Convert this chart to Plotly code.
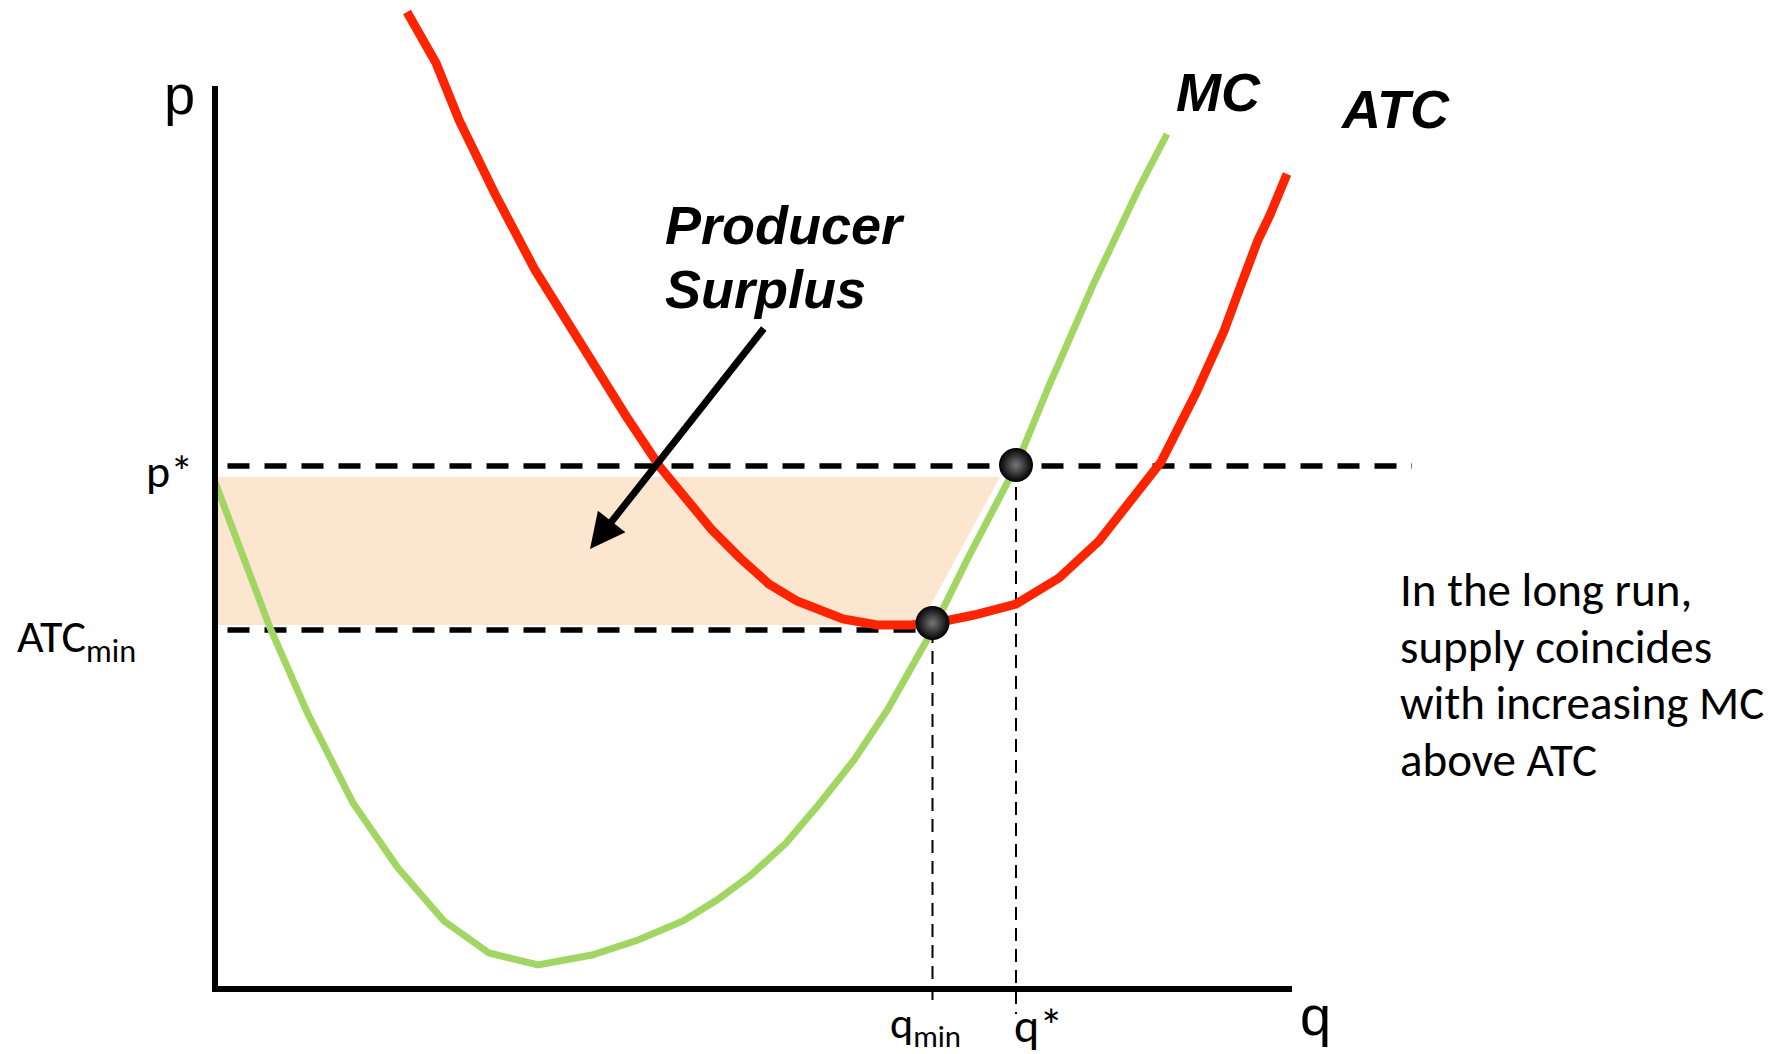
import plotly.graph_objects as go

# ---- data (quantity q, price p in chart units) ----
mc_q = [0, 5.47, 9.2, 13.8, 18.3, 22.9, 27.4, 32.3, 37.7, 42.3, 46.8, 50.2, 53.6, 57.1,
        60.5, 63.9, 67.3, 70.7, 71.75, 75.3, 80.1, 83.3, 87.8, 92.4, 95.2]
mc_p = [50.7, 36.2, 27.7, 18.6, 12.1, 6.8, 3.6, 2.4, 3.4, 4.9, 6.8, 8.9, 11.4, 14.6,
        18.6, 22.9, 28.0, 33.9, 35.9, 43.1, 52.3, 60.1, 70.4, 80.1, 85.5]

atc_q = [19.2, 20.6, 22.1, 24.4, 28.0, 32.0, 36.8, 41.1, 44.5, 46.8, 49.7, 52.5, 55.4, 58.2,
         62.8, 66.2, 69.6, 73.0, 75.9, 80.1, 84.4, 88.4, 92.4, 94.6, 98.1, 100.9, 102.6,
         104.3, 105.5, 107.2]
atc_p = [97.7, 95.4, 92.6, 86.9, 79.5, 71.9, 64.1, 57.3, 52.2, 49.3, 45.9, 43.1, 40.5, 38.8,
         37.0, 36.4, 36.4, 36.8, 37.4, 38.5, 41.1, 44.8, 49.7, 52.7, 59.6, 65.8, 70.4,
         74.9, 77.4, 81.5]

p_star = 52.3
atc_min = 35.9
q_min = 71.75
q_star = 80.1

shade_q = [0, 78.5, 70.5, 0]
shade_p = [51.2, 51.2, 36.4, 36.4]

dots_q = [q_min, q_star]
dots_p = [36.6, 52.4]

axis_q = [0, 0, 107.7]
axis_p = [90.3, 0, 0]

note_lines = ["In the long run,", "supply coincides", "with increasing MC", "above ATC"]
note_p = [39.9, 34.2, 28.6, 22.9]

RED = "#FF2400"
GREEN = "#A2D663"
SHADE = "#FDE6D0"
CAL = "Carlito, Lato, sans-serif"
ARI = "Liberation Sans, Arial, sans-serif"

fig = go.Figure()

# producer surplus shading
fig.add_trace(go.Scatter(x=shade_q + [shade_q[0]], y=shade_p + [shade_p[0]], fill="toself",
                         fillcolor=SHADE, line=dict(width=0), mode="lines", hoverinfo="skip"))

# dashed guide lines
fig.add_trace(go.Scatter(x=[1.25, 119.7], y=[p_star, p_star], mode="lines",
                         line=dict(color="black", width=5.5, dash="22px,15px")))
fig.add_trace(go.Scatter(x=[1.25, q_min], y=[atc_min, atc_min], mode="lines",
                         line=dict(color="black", width=5.5, dash="22px,15px")))
fig.add_trace(go.Scatter(x=[q_min, q_min], y=[atc_min, -1.9], mode="lines",
                         line=dict(color="black", width=2, dash="13px,8px")))
fig.add_trace(go.Scatter(x=[q_star, q_star], y=[p_star, -2.5], mode="lines",
                         line=dict(color="black", width=2, dash="13px,8px")))

# curves
fig.add_trace(go.Scatter(x=mc_q, y=mc_p, mode="lines", line=dict(color=GREEN, width=7)))
fig.add_trace(go.Scatter(x=atc_q, y=atc_p, mode="lines", line=dict(color=RED, width=9)))

# axes
fig.add_trace(go.Scatter(x=axis_q, y=axis_p, mode="lines",
                         line=dict(color="black", width=6)))

# dots
fig.add_trace(go.Scatter(x=dots_q, y=dots_p, mode="markers",
                         marker=dict(size=34, color="black",
                                     gradient=dict(type="radial", color="#777777"),
                                     line=dict(width=0))))

ann = []
def txt(x, y, t, size, family, xanchor="center", bold=False, italic=False):
    ann.append(dict(x=x, y=y, xref="x", yref="y", text=t, showarrow=False,
                    xanchor=xanchor, yanchor="middle",
                    font=dict(size=size, family=family, color="black",
                              weight="bold" if bold else "normal",
                              style="italic" if italic else "normal")))

txt(-3.6, 89.5, "p", 56, ARI)
txt(110.0, -2.6, "q", 56, ARI)
txt(-2.0, 51.8, "p*", 46, CAL, xanchor="right")
txt(-20.0, 35.0, "ATC<sub>min</sub>", 46, CAL, xanchor="left")
txt(71.0, -3.6, "q<sub>min</sub>", 44, CAL)
txt(82.3, -3.6, "q*", 48, CAL)
txt(100.3, 89.7, "MC", 54, ARI, bold=True, italic=True)
txt(118.0, 88.0, "ATC", 54, ARI, bold=True, italic=True)
txt(44.8, 76.4, "Producer", 54, ARI, xanchor="left", bold=True, italic=True)
txt(44.8, 70.0, "Surplus", 54, ARI, xanchor="left", bold=True, italic=True)
for line, yy in zip(note_lines, note_p):
    txt(118.3, yy, line, 47, CAL, xanchor="left")

# arrow
ann.append(dict(x=37.5, y=44.0, ax=55.0, ay=66.2, xref="x", yref="y", axref="x", ayref="y",
                showarrow=True, arrowhead=2, arrowsize=1.0, arrowwidth=7, arrowcolor="black",
                text=""))

# page body has an 8px margin: size and ranges keep 10 px per unit with origin at (215, 989)
fig.update_layout(
    width=1778, height=1046, margin=dict(l=0, r=0, t=0, b=0),
    paper_bgcolor="white", plot_bgcolor="white", showlegend=False,
    xaxis=dict(range=[-20.7, 157.1], visible=False, fixedrange=True),
    yaxis=dict(range=[-6.5, 98.1], visible=False, fixedrange=True),
    annotations=ann,
)

fig.write_html("out.html", config={"displayModeBar": False})
